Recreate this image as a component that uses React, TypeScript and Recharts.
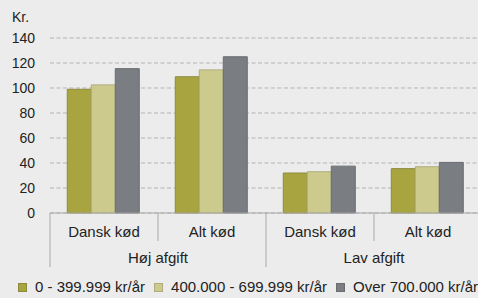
import React from "react";
import { BarChart, Bar, XAxis, YAxis, CartesianGrid } from "recharts";

const categories = ["Dansk kød", "Alt kød", "Dansk kød", "Alt kød"];
const groups = ["Høj afgift", "Høj afgift", "Lav afgift", "Lav afgift"];
const lowIncome = [99, 109, 32, 35.5];
const midIncome = [102.5, 114.5, 33, 37];
const highIncome = [115.5, 125, 37.5, 40.5];
const yTicks = [0, 20, 40, 60, 80, 100, 120, 140];

const seriesNames = ["0 - 399.999 kr/år", "400.000 - 699.999 kr/år", "Over 700.000 kr/år"];
const COLORS = ["#a8a440", "#cccb8d", "#7a7d82"];
const STROKES = ["#8c8a3c", "#aeac7c", "#6a6c70"];

const FONT = "'Liberation Sans', Arial, sans-serif";

const data = categories.map((c, i) => ({
  cat: c,
  grp: groups[i],
  low: lowIncome[i],
  mid: midIncome[i],
  high: highIncome[i],
}));

// two-level category tick with divider lines
function CatTick(props: any) {
  const { x, y, payload, index } = props;
  const half = payload.offset || 54;
  const left = x - half;
  const right = x + half;
  const isGroupStart = index % 2 === 0;
  const last = index === categories.length - 1;
  return (
    <g>
      <line x1={left} y1={y} x2={left} y2={y + (isGroupStart ? 54 : 28)} stroke="#a9a9a9" />
      {last && <line x1={right} y1={y} x2={right} y2={y + 54} stroke="#a9a9a9" />}
      <text x={x} y={y + 24} textAnchor="middle" fontSize={15} fill="#222" fontFamily={FONT}>
        {payload.value}
      </text>
      {isGroupStart && (
        <text x={right} y={y + 50} textAnchor="middle" fontSize={15} fill="#222" fontFamily={FONT}>
          {groups[index]}
        </text>
      )}
    </g>
  );
}

export default function App() {
  return (
    <div
      style={{
        position: "fixed",
        left: 0,
        top: 0,
        width: 478,
        height: 298,
        overflow: "hidden",
        background: "#ececec",
        fontFamily: FONT,
      }}
    >
      <div style={{ position: "absolute", left: 12, top: 9, fontSize: 14, color: "#222" }}>Kr.</div>
      <BarChart
        width={484}
        height={298}
        data={data}
        margin={{ top: 38, right: 2, bottom: 0, left: 0 }}
        barCategoryGap="16%"
        barGap={0}
      >
        <CartesianGrid vertical={false} stroke="#b3b3b3" strokeDasharray="4 2.5" />
        <YAxis
          width={50}
          domain={[0, 140]}
          ticks={yTicks}
          axisLine={false}
          tickLine={false}
          tickSize={0}
          tickMargin={15}
          tick={{ fontSize: 14, fill: "#222", fontFamily: FONT }}
        />
        <XAxis
          dataKey="cat"
          height={85}
          axisLine={{ stroke: "#a9a9a9" }}
          tickLine={false}
          tickSize={0}
          tickMargin={0}
          interval={0}
          tick={<CatTick />}
        />
        <Bar dataKey="low" fill={COLORS[0]} stroke={STROKES[0]} isAnimationActive={false} />
        <Bar dataKey="mid" fill={COLORS[1]} stroke={STROKES[1]} isAnimationActive={false} />
        <Bar dataKey="high" fill={COLORS[2]} stroke={STROKES[2]} isAnimationActive={false} />
      </BarChart>
      <div
        style={{
          position: "absolute",
          left: 18,
          top: 279,
          height: 16,
          lineHeight: "16px",
          display: "flex",
          alignItems: "center",
          fontSize: 15,
          color: "#222",
          whiteSpace: "nowrap",
        }}
      >
        {seriesNames.map((n, i) => (
          <div key={n} style={{ display: "flex", alignItems: "center", marginRight: 9 }}>
            <span
              style={{
                display: "inline-block",
                width: 7,
                height: 7,
                background: COLORS[i],
                border: `1px solid ${STROKES[i]}`,
                marginRight: 8,
              }}
            />
            {n}
          </div>
        ))}
      </div>
    </div>
  );
}
